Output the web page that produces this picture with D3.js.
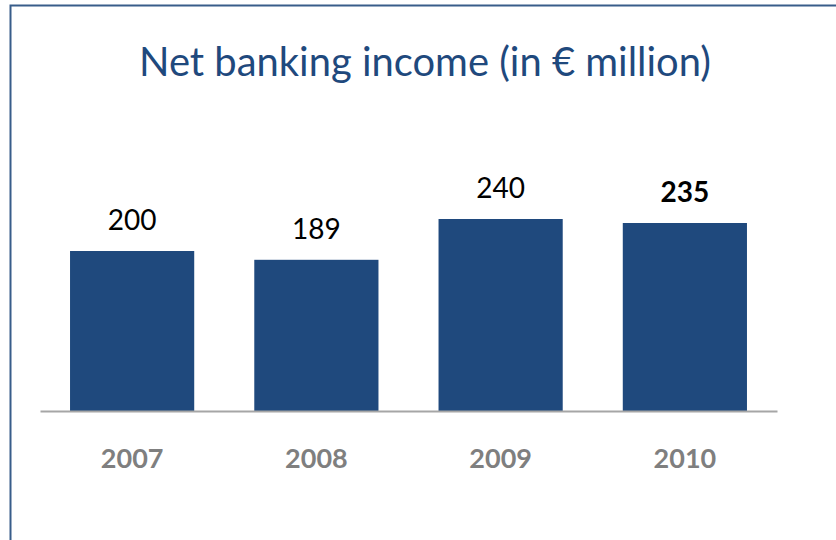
<!DOCTYPE html>
<html><head><meta charset="utf-8">
<script src="https://cdn.jsdelivr.net/npm/d3@7"></script>
<style>html,body{margin:0;padding:0;background:#fff;}svg{display:block;}</style>
</head><body>
<script>
const categories = ["2007", "2008", "2009", "2010"];
const values = [200, 189, 240, 235];
const boldValue = [false, false, false, true];
const titleText = "Net banking income (in \u20AC million)";

const W = 836, H = 540;
const svg = d3.select("body").append("svg").attr("width", W).attr("height", H);

// frame
svg.append("rect").attr("x", 10.5).attr("y", 5.5).attr("width", 840).attr("height", 560)
  .attr("fill", "#fff").attr("stroke", "#385D8A").attr("stroke-width", 2);

const x = d3.scaleBand().domain(categories).range([40, 777])
  .paddingInner(0.326).paddingOuter(0.163);
const y = d3.scaleLinear().domain([0, 300]).range([411, 171]);

const font = "Lato, Open Sans, sans-serif";

// title
const title = svg.append("text").attr("x", 425).attr("y", 76).attr("text-anchor", "middle")
  .attr("font-family", font).attr("font-size", 34).attr("fill", "#1F497D").text(titleText);
const tw = title.node().getComputedTextLength();
title.attr("font-size", 34 * 572 / tw);

// bars
svg.append("g").selectAll("rect").data(categories).join("rect")
  .attr("x", d => x(d)).attr("width", x.bandwidth())
  .attr("y", (d, i) => y(values[i])).attr("height", (d, i) => y(0) - y(values[i]))
  .attr("fill", "#1F497D");

// baseline axis
const axis = svg.append("g").attr("transform", `translate(0,${y(0)})`)
  .call(d3.axisBottom(x).tickSize(0).tickPadding(38));
axis.select(".domain").attr("stroke", "#A6A6A6").attr("stroke-width", 2);
axis.selectAll("text").attr("font-family", font).attr("font-weight", "bold")
  .attr("font-size", 27).attr("fill", "#7F7F7F");

// value labels
svg.append("g").selectAll("text").data(categories).join("text")
  .attr("x", d => x(d) + x.bandwidth() / 2)
  .attr("y", (d, i) => y(values[i]) - 21)
  .attr("text-anchor", "middle")
  .attr("font-family", font).attr("font-size", 28)
  .attr("font-weight", (d, i) => boldValue[i] ? "bold" : "normal")
  .attr("fill", "#000")
  .text((d, i) => values[i]);
</script>
</body></html>
